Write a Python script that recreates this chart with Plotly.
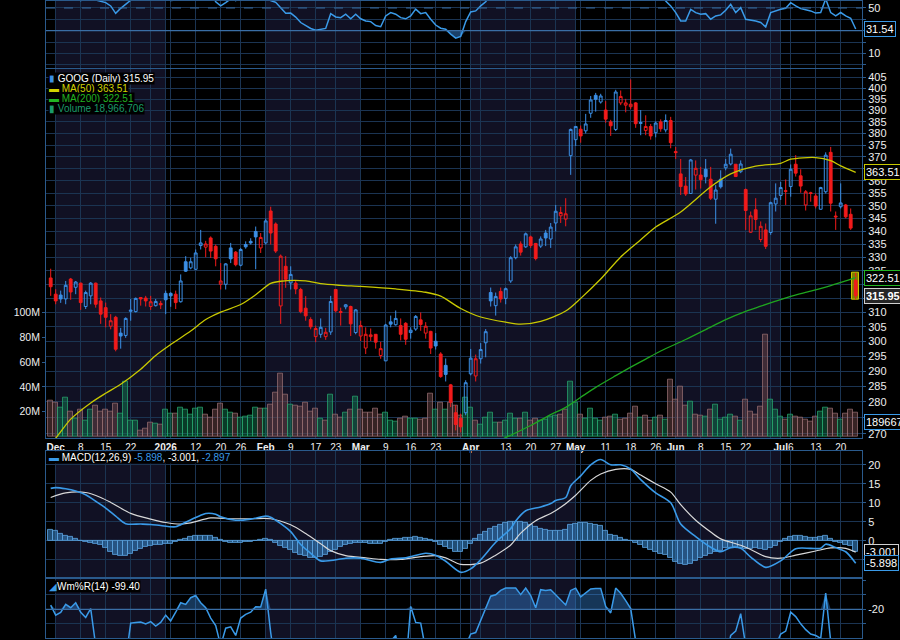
import math
import pandas as pd
import plotly.graph_objects as go

# ---------------- data ----------------
HOLIDAYS = ["2025-12-25", "2026-01-01", "2026-01-19", "2026-02-16",
            "2026-04-03", "2026-05-25", "2026-06-19", "2026-07-03"]
dates = pd.bdate_range("2025-11-28", "2026-07-23", freq="C",
                       holidays=HOLIDAYS).strftime("%Y-%m-%d").tolist()

opens = [322.4, 316.5, 316.2, 314.8, 322.0, 319.0, 320.5, 312.1, 315.9, 320.5,
         314.1, 311.7, 305.2, 308.3, 302.8, 302.0, 310.4, 310.3, 315.3, 315.1,
         312.1, 312.4, 313.2, 316.8, 316.8, 316.5, 313.8, 328.4, 326.1, 325.6,
         334.5, 333.9, 337.4, 334.2, 320.1, 320.1, 333.6, 332.0, 327.1, 334.9,
         336.1, 339.9, 333.6, 335.5, 347.9, 342.8, 312.3, 326.7, 320.6, 320.5,
         318.2, 311.5, 307.5, 301.6, 302.4, 301.6, 303.2, 318.2, 310.3, 312.0,
         312.1, 303.0, 301.8, 297.7, 301.6, 302.4, 295.2, 293.4, 306.7, 305.7,
         305.4, 306.2, 303.0, 304.2, 307.4, 302.8, 303.4, 300.0, 295.7, 291.9,
         285.5, 276.6, 274.9, 276.6, 289.1, 288.4, 294.1, 299.5, 317.1, 312.4,
         317.5, 315.0, 321.3, 329.9, 335.1, 334.0, 337.8, 335.3, 334.3, 339.3,
         337.0, 343.2, 346.0, 344.7, 370.5, 377.3, 381.8, 381.1, 388.8, 396.8,
         393.8, 390.2, 385.0, 381.7, 393.4, 392.4, 391.7, 393.4, 384.3, 381.3,
         383.0, 380.3, 385.0, 381.5, 385.6, 372.2, 362.9, 357.9, 354.9, 362.4,
         362.4, 364.8, 360.7, 352.6, 360.7, 365.4, 367.0, 366.9, 363.8, 356.5,
         339.6, 348.4, 336.8, 340.5, 339.5, 350.7, 354.1, 356.0, 357.7, 366.9,
         362.1, 350.3, 355.2, 353.9, 348.6, 355.6, 371.9, 345.9, 349.6, 350.3,
         346.6, 321.5]
highs = [325.8, 318.3, 317.8, 321.3, 322.4, 321.3, 320.7, 317.8, 320.9, 320.7,
         315.3, 313.5, 309.4, 308.8, 304.6, 308.3, 314.8, 315.3, 315.5, 315.9,
         315.9, 314.8, 314.1, 317.8, 317.2, 317.8, 323.7, 330.5, 329.9, 333.0,
         340.5, 336.3, 338.0, 334.9, 327.9, 327.9, 335.5, 332.4, 333.6, 336.1,
         337.3, 341.8, 339.3, 344.9, 349.6, 343.4, 331.1, 330.5, 326.7, 321.5,
         318.8, 315.8, 308.3, 305.4, 307.9, 304.6, 315.9, 318.2, 311.7, 313.0,
         312.4, 311.2, 307.1, 304.8, 304.4, 302.4, 299.8, 306.0, 308.9, 310.7,
         307.9, 306.6, 304.8, 309.1, 310.0, 306.6, 303.6, 302.8, 296.3, 294.2,
         285.8, 279.0, 276.3, 287.0, 297.4, 295.5, 299.4, 304.2, 318.9, 317.1,
         318.9, 318.9, 330.5, 334.9, 336.1, 339.5, 338.3, 335.5, 338.0, 340.5,
         343.2, 350.3, 349.6, 353.0, 382.1, 383.0, 383.4, 388.5, 396.5, 397.9,
         397.5, 394.2, 385.9, 399.3, 399.0, 395.2, 404.0, 393.8, 390.2, 387.9,
         384.1, 385.2, 386.1, 388.3, 387.2, 374.2, 369.1, 361.6, 369.1, 368.5,
         365.8, 369.1, 365.8, 358.3, 364.4, 369.1, 373.5, 367.0, 368.5, 356.9,
         347.7, 353.0, 343.8, 343.0, 351.6, 359.0, 359.6, 360.6, 366.8, 370.7,
         364.8, 356.3, 355.6, 354.9, 357.6, 371.9, 374.2, 347.7, 359.0, 350.7,
         348.9, 324.3]
lows = [315.9, 312.9, 313.4, 312.9, 314.5, 316.5, 310.9, 311.2, 312.9, 311.7,
        306.0, 304.8, 304.1, 296.6, 297.5, 301.2, 307.1, 310.0, 312.4, 312.1,
        310.9, 312.1, 311.2, 309.4, 312.0, 311.2, 313.5, 324.6, 325.6, 325.3,
        333.0, 330.1, 329.8, 326.7, 318.2, 318.2, 327.9, 326.7, 326.7, 333.3,
        334.9, 325.6, 331.7, 334.9, 334.9, 331.7, 306.0, 318.8, 318.2, 316.5,
        309.7, 307.1, 304.1, 299.7, 301.2, 300.5, 302.2, 310.0, 305.4, 311.1,
        301.8, 302.4, 300.1, 295.7, 300.1, 297.5, 294.1, 293.4, 304.8, 305.4,
        300.3, 298.8, 300.9, 303.6, 303.6, 300.9, 295.7, 297.2, 287.8, 286.6,
        278.4, 271.1, 270.5, 275.8, 288.6, 286.6, 292.5, 294.6, 312.1, 308.9,
        313.5, 312.9, 320.6, 329.3, 330.7, 333.6, 333.6, 328.9, 333.6, 334.3,
        333.6, 339.9, 343.2, 341.9, 362.5, 374.6, 376.0, 380.0, 386.8, 389.5,
        393.1, 384.6, 378.9, 381.0, 392.4, 389.2, 390.6, 382.4, 379.2, 379.2,
        377.3, 378.3, 380.7, 380.4, 373.6, 369.1, 354.3, 353.9, 354.7, 356.5,
        356.9, 359.0, 352.3, 342.9, 356.9, 364.4, 366.4, 361.6, 363.2, 340.5,
        339.3, 340.5, 335.8, 333.2, 338.6, 347.7, 352.3, 350.3, 353.6, 361.8,
        355.2, 348.1, 351.6, 348.9, 348.4, 354.9, 347.7, 340.5, 348.9, 345.0,
        340.5, 314.6]
closes = [319.2, 314.1, 314.8, 319.7, 317.3, 320.9, 313.5, 317.1, 320.5, 312.9,
          309.4, 308.3, 307.1, 297.3, 301.8, 307.9, 310.8, 315.0, 314.8, 314.1,
          313.8, 313.9, 312.7, 314.5, 315.9, 313.5, 321.3, 324.9, 328.4, 331.7,
          335.5, 335.1, 332.4, 329.5, 321.3, 327.6, 329.5, 327.3, 333.0, 334.0,
          335.5, 337.8, 337.6, 344.0, 339.3, 332.4, 330.5, 321.9, 323.7, 318.4,
          310.3, 308.8, 305.0, 304.4, 304.8, 303.1, 313.9, 310.6, 310.0, 312.7,
          306.0, 310.9, 305.4, 302.4, 302.2, 299.7, 297.5, 305.6, 305.9, 307.9,
          302.4, 300.7, 303.8, 308.6, 305.8, 305.2, 297.7, 298.4, 288.2, 288.9,
          279.9, 272.9, 272.2, 286.2, 294.3, 294.1, 297.2, 303.3, 314.1, 315.7,
          314.8, 318.5, 329.9, 334.0, 332.0, 339.0, 334.5, 329.6, 337.0, 337.4,
          341.6, 347.8, 347.3, 346.8, 381.7, 383.0, 378.9, 384.1, 394.7, 395.0,
          396.5, 386.2, 383.3, 398.3, 396.3, 393.4, 392.8, 384.2, 384.7, 383.0,
          378.9, 384.5, 382.0, 385.6, 376.0, 371.8, 357.7, 354.7, 368.7, 365.2,
          360.5, 361.7, 353.0, 356.3, 357.6, 366.9, 371.1, 361.8, 367.0, 348.1,
          346.0, 344.6, 341.9, 334.2, 351.2, 353.0, 357.3, 355.8, 364.8, 363.2,
          357.9, 355.6, 354.9, 349.9, 357.3, 370.7, 351.0, 345.6, 351.1, 345.6,
          341.2, 315.95]
volume_millions = [28.9, 27.5, 23.5, 31.5, 20.3, 14.7, 21.4, 12.9, 21.4, 24.9,
                   20.3, 21.4, 20.3, 26.7, 18.7, 44.3, 12.9, 12.9, 4.9, 6.2,
                   11.5, 10.2, 9.7, 21.4, 18.7, 18.2, 23.5, 21.4, 17.7, 22.7,
                   23.5, 17.7, 15.5, 21.4, 26.2, 21.4, 19.0, 18.2, 15.5, 16.1,
                   16.9, 23.5, 22.2, 22.2, 25.4, 35.5, 51.0, 33.4, 25.4, 24.9,
                   24.3, 27.5, 20.1, 22.7, 14.7, 12.9, 33.4, 17.7, 15.5, 19.5,
                   21.7, 32.3, 21.7, 19.5, 19.5, 22.2, 17.4, 19.0, 12.9, 12.1,
                   14.7, 16.3, 14.2, 14.2, 13.7, 14.7, 34.2, 21.7, 27.0, 21.7,
                   27.0, 24.9, 16.9, 31.5, 23.5, 12.9, 9.4, 15.5, 19.5, 11.5,
                   11.5, 12.9, 18.2, 14.2, 14.7, 19.0, 12.9, 14.2, 12.9, 13.4,
                   16.3, 16.9, 17.4, 21.7, 44.1, 27.5, 17.4, 14.7, 22.2, 14.2,
                   12.9, 15.5, 16.3, 17.4, 13.7, 14.7, 18.2, 24.3, 15.5, 16.9,
                   12.9, 15.5, 16.9, 14.0, 46.0, 30.0, 40.0, 25.0, 28.0, 18.0,
                   17.0, 16.0, 22.0, 26.0, 14.0, 15.0, 18.0, 16.0, 13.0, 30.0,
                   20.0, 18.0, 24.0, 82.0, 30.0, 22.0, 16.0, 14.0, 18.0, 16.0,
                   15.0, 14.0, 12.0, 16.0, 20.3, 23.5, 22.2, 18.2, 13.4, 18.2,
                   21.4, 18.966706]

ma50_idx = [0, 1, 4, 8, 11, 14, 18, 21, 24, 28, 31, 34, 38, 41, 44, 46, 51, 54, 58, 62,
            69, 75, 78, 82, 86, 91, 94, 98, 103, 106, 110, 114, 118, 121, 126, 132, 136,
            141, 146, 148, 153, 156, 158, 161]
ma50_val = [267.3, 268.7, 274.6, 279.7, 282.8, 285.7, 290.6, 295.2, 298.9, 303.5,
            307.5, 310.1, 312.8, 316.3, 320.4, 321.2, 321.3, 320.3, 319.7, 319.3,
            318.4, 317.2, 315.8, 311.4, 308.4, 306.6, 305.9, 306.9, 310.5, 315.0,
            322.0, 330.2, 336.7, 341.6, 347.5, 357.6, 362.9, 366.1, 367.3, 369.0,
            369.7, 368.4, 366.2, 363.51]
ma200_idx = [88, 92, 96, 100, 103, 106, 109, 113, 116, 119, 122, 127, 131, 135, 139,
             142, 145, 148, 152, 156, 159, 161]
ma200_val = [266.8, 269.6, 272.6, 276.0, 278.3, 281.5, 284.7, 288.5, 291.3, 294.0,
             296.7, 300.6, 304.0, 307.5, 310.4, 312.2, 314.0, 315.7, 317.6, 319.6,
             321.3, 322.51]

macd_idx = [0, 1, 3, 5, 7, 9, 11, 13, 15, 18, 20, 22, 25, 27, 30, 31, 33, 34, 37, 40,
            43, 44, 46, 48, 50, 52, 54, 56, 59, 62, 66, 68, 71, 75, 77, 79, 82, 84, 86, 89,
            92, 93, 95, 98, 100, 101, 103, 104, 106, 108, 110, 112, 114, 116, 118, 121,
            124, 126, 129, 132, 134, 136, 138, 140, 143, 146, 149, 152, 154, 155, 157,
            159, 161]
macd_val = [13.8, 14.0, 13.7, 13.1, 12.1, 10.4, 8.6, 6.5, 4.5, 4.4,
            4.3, 4.0, 3.7, 4.9, 6.7, 7.2, 7.0, 6.3, 5.4, 5.7,
            6.5, 6.2, 4.5, 2.4, -1.0, -3.3, -5.3, -5.2, -4.6, -4.6,
            -5.7, -4.8, -4.5, -3.3, -3.8, -5.4, -8.3, -7.4, -5.0, -0.4,
            3.2, 5.2, 7.9, 8.9, 9.8, 10.6, 11.4, 14.5, 17.1, 20.0,
            21.4, 20.0, 20.0, 18.9, 16.1, 12.6, 10.0, 4.4, 1.1, -1.7,
            -2.9, -1.8, -2.0, -4.3, -7.0, -5.3, -2.1, -2.0, -2.0, -0.9,
            -1.8, -2.9, -5.898]
signal_idx = [0, 3, 7, 10, 12, 16, 20, 23, 26, 28, 32, 36, 40, 44, 48, 51, 54, 56, 59, 63,
              66, 70, 74, 77, 79, 82, 86, 89, 92, 94, 97, 100, 102, 105, 108, 110, 113,
              116, 118, 121, 124, 126, 129, 132, 134, 138, 140, 143, 146, 149, 153, 156,
              159, 161]
signal_val = [11.4, 12.6, 12.7, 11.4, 10.1, 7.2, 5.7, 4.8, 4.4, 4.7,
              6.0, 5.8, 5.8, 5.8, 4.2, 1.9, -0.8, -2.6, -3.9, -4.5,
              -4.9, -4.9, -4.2, -3.9, -4.5, -6.2, -5.9, -3.8, -1.1, 2.0,
              5.3, 7.2, 8.8, 12.0, 15.9, 17.6, 18.8, 18.8, 17.3, 15.0,
              12.8, 9.5, 5.4, 2.3, 0.5, -1.2, -2.3, -4.2, -4.6, -3.8,
              -2.7, -1.9, -2.0, -3.001]
macd_hist = [2.8, 2.5, 1.9, 1.4, 0.9, 0.4, 0.0, -0.3, -0.6, -0.9,
             -1.2, -2.0, -3.0, -3.8, -4.0, -3.9, -3.4, -2.7, -2.1, -1.7,
             -1.4, -1.2, -1.1, -0.9, -0.7, -0.3, 0.2, 0.6, 0.9, 1.2,
             1.3, 1.3, 1.2, 0.8, 0.2, -0.4, -0.5, -0.5, -0.5, -0.4,
             -0.3, -0.1, 0.3, 0.4, 0.2, -0.6, -1.3, -2.0, -2.5, -3.1,
             -3.6, -4.1, -4.5, -4.5, -4.3, -3.8, -3.0, -2.3, -1.5, -1.0,
             -0.7, -0.6, -0.5, -0.6, -0.7, -0.8, -0.7, -0.3, 0.2, 0.4,
             0.6, 0.7, 0.8, 0.9, 0.8, 0.6, 0.3, -0.3, -1.0, -1.5,
             -2.2, -2.8, -2.9, -2.2, -0.8, 0.5, 1.5, 2.3, 3.1, 3.7,
             4.2, 4.7, 5.0, 5.0, 5.0, 4.8, 4.1, 3.6, 3.2, 2.8,
             2.5, 2.6, 2.5, 2.8, 4.2, 4.5, 4.6, 4.6, 4.5, 4.3,
             3.8, 2.6, 1.6, 1.2, 0.8, 0.3, -0.1, -0.6, -1.2, -1.8,
             -2.4, -3.0, -3.5, -3.8, -4.6, -5.6, -6.2, -6.4, -6.0, -5.2,
             -4.6, -4.0, -3.5, -2.9, -2.6, -2.0, -1.8, -1.6, -1.8, -2.2,
             -2.2, -2.0, -2.2, -2.4, -2.0, -1.4, -0.3, 0.5, 0.9, 1.2,
             1.2, 1.0, 0.8, 0.7, 0.9, 1.3, 0.6, -0.3, -0.6, -1.0,
             -1.4, -2.897]

rsi_vals = [58, 57, 58, 60, 57.5, 59, 56.5, 58, 59.5, 57,
            56.1, 54.7, 51.8, 45.3, 49.7, 53.2, 56.8, 59, 58.5, 58,
            57.5, 57.8, 57, 58.5, 56.5, 57, 61, 62, 64, 66,
            68, 67, 64, 55.5, 51.8, 54.7, 58, 56.5, 59, 60,
            61, 62, 61, 65, 56.5, 55, 50.3, 45.3, 45.5, 42,
            37.2, 34.5, 32.0, 30.5, 31.3, 32.0, 45, 42.1, 41.5, 44.5,
            40.5, 44.5, 40.5, 38.5, 38, 34.5, 33.5, 43, 45.9, 44.5,
            41.5, 40.5, 43, 49, 45, 45.9, 40.1, 35, 32.2, 31.3,
            27.0, 23.5, 25, 38, 46.5, 47.4, 51.8, 55.5, 62, 63,
            61, 64, 69, 72, 68, 72, 68, 63, 66, 67,
            70, 74, 73, 72, 82, 83, 79, 81, 84, 84,
            85, 76, 73, 80, 78, 76, 75, 66, 67, 65,
            62, 66, 62, 56.1, 51.8, 45.9, 38.6, 38.6, 48.8, 45.9,
            44.5, 45.0, 40.1, 43.0, 43.9, 48, 53.2, 45.9, 50.3, 40.1,
            39.5, 38.6, 37.2, 33.4, 45.9, 47.4, 48.8, 49.7, 54.7, 51.8,
            49.4, 48.5, 47.4, 45.5, 46, 58, 46, 43, 46, 43,
            41, 31.54]
wr_vals = [-17.1, -24.0, -22.2, -16.6, -18.9, -15.5, -22.0, -25.6, -19.5, -45.0,
           -80.0, -85.0, -75.0, -95.0, -85.0, -55.0, -29.5, -29.0, -28.8, -30.0,
           -28.5, -31.5, -29.0, -24.0, -28.0, -22.0, -15.5, -16.6, -12.0, -10.5,
           -15.5, -18.9, -26.0, -31.2, -45.0, -33.0, -32.0, -38.0, -26.0, -23.5,
           -22.0, -18.2, -18.4, -6.1, -36.0, -60.0, -70.0, -80.0, -75.0, -85.0,
           -95.0, -95.0, -97.0, -92.0, -90.0, -93.0, -65.0, -88.0, -88.0, -82.0,
           -92.0, -75.0, -85.0, -85.0, -85.0, -92.0, -90.0, -60.0, -42.0, -38.0,
           -55.0, -60.0, -18.0, -29.0, -29.5, -48.0, -70.0, -65.0, -95.0, -85.0,
           -98.0, -99.0, -97.0, -45.0, -37.0, -36.0, -28.0, -19.0, -11.0, -10.0,
           -7.0, -5.4, -5.4, -5.4, -9.9, -5.4, -10.5, -18.9, -6.5, -7.0,
           -6.5, -9.9, -13.5, -17.0, -7.0, -5.4, -11.4, -9.0, -6.0, -5.6,
           -5.6, -18.0, -22.5, -5.4, -9.0, -14.0, -19.5, -42.0, -50.0, -60.0,
           -72.0, -60.0, -62.0, -65.0, -85.0, -90.0, -97.0, -95.0, -70.0, -75.0,
           -82.0, -78.0, -93.0, -80.0, -72.0, -55.0, -38.0, -35.0, -23.0, -45.0,
           -60.0, -65.0, -80.0, -95.0, -60.0, -45.0, -37.0, -35.0, -22.0, -25.0,
           -30.0, -34.0, -37.0, -38.0, -40.0, -8.8, -42.0, -75.0, -70.0, -85.0,
           -95.0, -99.4]

tick_dates = ["2025-12-01", "2025-12-08", "2025-12-15", "2025-12-22", "2025-12-29",
              "2026-01-02", "2026-01-05", "2026-01-12", "2026-01-20", "2026-01-26",
              "2026-02-02", "2026-02-09", "2026-02-17", "2026-02-23", "2026-03-02",
              "2026-03-09", "2026-03-16", "2026-03-23", "2026-03-30", "2026-04-01",
              "2026-04-06", "2026-04-13", "2026-04-20", "2026-04-27", "2026-05-01",
              "2026-05-04", "2026-05-11", "2026-05-18", "2026-05-26", "2026-06-01",
              "2026-06-08", "2026-06-15", "2026-06-22", "2026-06-29", "2026-07-01",
              "2026-07-06", "2026-07-13", "2026-07-20"]
tick_text = ["Dec", "8", "15", "22", "", "2026", "", "12", "20", "26",
             "Feb", "9", "17", "23", "Mar", "9", "16", "23", "", "Apr",
             "", "13", "20", "27", "May", "", "11", "18", "26", "Jun",
             "8", "15", "22", "", "Jul", "6", "13", "20"]
major_labels = {"Dec", "2026", "Feb", "Mar", "Apr", "May", "Jun", "Jul"}
price_ticks = list(range(270, 406, 5))
price_hidden = {275, 315, 320, 365}          # labels covered by value tags
volume_ticks = [20, 40, 60, 80, 100]
shaded_months = [("2025-12", "2026-01"), ("2026-02", "2026-03"),
                 ("2026-04", "2026-05"), ("2026-06", "2026-07")]

n = len(dates)
for name, arr in [("opens", opens), ("highs", highs), ("lows", lows), ("closes", closes),
                  ("vol", volume_millions), ("hist", macd_hist), ("rsi", rsi_vals), ("wr", wr_vals)]:
    assert len(arr) == n, (name, len(arr), n)
assert len(ma50_idx) == len(ma50_val) and len(ma200_idx) == len(ma200_val)
assert len(macd_idx) == len(macd_val) and len(signal_idx) == len(signal_val)

# ---------------- style ----------------
FONT = "Liberation Sans, Arial, sans-serif"
GRID = "#1b3452"
AXLINE = "#2a5a8c"
BLUE = "#3b8fe6"
RED = "#f21b1b"
LBLUE = "#3a9ae8"
NAVY = "rgb(17,17,36)"
W, H = 900, 640
L_M, R_M = 46, 38

def dom(top_px, bot_px):
    return [1 - bot_px / H, 1 - top_px / H]

panels = {"rsi": (0, 67), "main": (68, 439), "macd": (452, 579), "wr": (581, 640)}

up = [closes[i] >= (closes[i - 1] if i else opens[i]) for i in range(n)]
bi = [i for i in range(n) if up[i]]
ri = [i for i in range(n) if not up[i]]
sub = lambda arr, ids: [arr[i] for i in ids]
last = n - 1

fig = go.Figure()

# volume (base axis of main panel)
fig.add_trace(go.Bar(
    x=dates, y=volume_millions, xaxis="x", yaxis="y",
    marker=dict(color=["rgba(18,120,80,0.5)" if u else "rgba(110,70,72,0.5)" for u in up],
                line=dict(color=["rgba(40,165,110,0.75)" if u else "rgba(150,110,112,0.75)" for u in up],
                          width=1)),
    hoverinfo="skip"))

# highlight box behind the last candle
hl_base = lows[last]
fig.add_trace(go.Bar(
    x=[dates[last]], y=[highs[last] - hl_base], base=[hl_base], width=[1.45],
    xaxis="x", yaxis="y5",
    marker=dict(color="rgba(150,150,0,0.85)", line=dict(color="#c8c800", width=1)),
    hoverinfo="skip"))

# candles
fig.add_trace(go.Candlestick(
    x=sub(dates, bi), open=sub(opens, bi), high=sub(highs, bi), low=sub(lows, bi),
    close=sub(closes, bi), xaxis="x", yaxis="y5", whiskerwidth=0,
    increasing=dict(line=dict(color=BLUE, width=1), fillcolor="rgba(0,0,0,0)"),
    decreasing=dict(line=dict(color=BLUE, width=1), fillcolor=BLUE), hoverinfo="skip"))
fig.add_trace(go.Candlestick(
    x=sub(dates, ri), open=sub(opens, ri), high=sub(highs, ri), low=sub(lows, ri),
    close=sub(closes, ri), xaxis="x", yaxis="y5", whiskerwidth=0,
    increasing=dict(line=dict(color=RED, width=1), fillcolor="rgba(0,0,0,0)"),
    decreasing=dict(line=dict(color=RED, width=1), fillcolor=RED), hoverinfo="skip"))

# moving averages
fig.add_trace(go.Scatter(x=[dates[k] for k in ma50_idx], y=ma50_val, xaxis="x", yaxis="y5",
                         mode="lines", line=dict(color="#c9c900", width=1.3, shape="spline", smoothing=0.8),
                         hoverinfo="skip"))
fig.add_trace(go.Scatter(x=[dates[k] for k in ma200_idx], y=ma200_val, xaxis="x", yaxis="y5",
                         mode="lines", line=dict(color="#1fa51f", width=1.3, shape="spline", smoothing=0.8),
                         hoverinfo="skip"))

# RSI (top)
fig.add_trace(go.Scatter(x=dates, y=[30] * n, xaxis="x2", yaxis="y2", mode="lines",
                         line=dict(width=0), hoverinfo="skip"))
fig.add_trace(go.Scatter(x=dates, y=[min(v, 30) for v in rsi_vals], xaxis="x2", yaxis="y2",
                         mode="lines", line=dict(width=0), fill="tonexty",
                         fillcolor="rgba(58,142,232,0.45)", hoverinfo="skip"))
fig.add_trace(go.Scatter(x=dates, y=rsi_vals, xaxis="x2", yaxis="y2", mode="lines",
                         line=dict(color=LBLUE, width=1.5), hoverinfo="skip"))

# MACD
fig.add_trace(go.Bar(x=dates, y=macd_hist, xaxis="x3", yaxis="y3",
                     marker=dict(color="rgba(55,130,195,0.6)",
                                 line=dict(color="rgba(90,160,220,0.85)", width=1)),
                     hoverinfo="skip"))
fig.add_trace(go.Scatter(x=[dates[k] for k in signal_idx], y=signal_val, xaxis="x3", yaxis="y3",
                         mode="lines", line=dict(color="#d8d8d8", width=1.2, shape="spline", smoothing=0.8),
                         hoverinfo="skip"))
fig.add_trace(go.Scatter(x=[dates[k] for k in macd_idx], y=macd_val, xaxis="x3", yaxis="y3",
                         mode="lines", line=dict(color=LBLUE, width=1.6, shape="spline", smoothing=0.8),
                         hoverinfo="skip"))

# Williams %R
fig.add_trace(go.Scatter(x=dates, y=[-20] * n, xaxis="x4", yaxis="y4", mode="lines",
                         line=dict(width=0), hoverinfo="skip"))
fig.add_trace(go.Scatter(x=dates, y=[max(v, -20) for v in wr_vals], xaxis="x4", yaxis="y4",
                         mode="lines", line=dict(width=0), fill="tonexty",
                         fillcolor="rgba(58,142,232,0.38)", hoverinfo="skip"))
fig.add_trace(go.Scatter(x=dates, y=wr_vals, xaxis="x4", yaxis="y4", mode="lines",
                         line=dict(color=LBLUE, width=1.5), hoverinfo="skip"))

# ---------------- axes ----------------
xr = [-0.94, 162.26]
ticktext = [f"<b>{t}</b>" if t in major_labels else t for t in tick_text]
xcommon = dict(type="category", categoryorder="array", categoryarray=dates, range=xr,
               tickvals=tick_dates, showgrid=True, gridcolor=GRID, gridwidth=1,
               zeroline=False, showline=True, linecolor=AXLINE, mirror=True, ticks="",
               fixedrange=True, tickangle=0)
ycommon = dict(showgrid=True, gridcolor=GRID, gridwidth=1, zeroline=False, showline=True,
               linecolor=AXLINE, mirror=True, ticks="outside", ticklen=3, tickcolor=AXLINE,
               tickfont=dict(size=11, color="#eeeeee", family=FONT), side="right")

pmin = 270 * math.exp(-(439 - 435.0) / 883.7)
pmax = 405 * math.exp((76.7 - 68) / 883.7)

fig.update_layout(
    width=W, height=H, margin=dict(l=L_M, r=R_M, t=0, b=0, pad=0),
    paper_bgcolor="black", plot_bgcolor="black", showlegend=False,
    bargap=0, boxgap=0.2, barmode="overlay",
    font=dict(family=FONT, color="#eeeeee", size=10),
    xaxis=dict(**xcommon, anchor="y", ticktext=ticktext, showticklabels=True,
               tickfont=dict(size=10, color="#f0f0f0", family=FONT), rangeslider=dict(visible=False)),
    xaxis2=dict(**xcommon, anchor="y2", showticklabels=False),
    xaxis3=dict(**xcommon, anchor="y3", showticklabels=False),
    xaxis4=dict(**xcommon, anchor="y4", showticklabels=False),
    yaxis=dict(domain=dom(*panels["main"]), anchor="x", side="left", range=[-1.04, 295.8],
               tickvals=volume_ticks, ticktext=[f"{v}M" for v in volume_ticks], showgrid=False,
               zeroline=False, showline=True, linecolor=AXLINE, ticks="outside", ticklen=3,
               tickcolor=AXLINE, tickfont=dict(size=10.5, color="#eeeeee", family=FONT),
               fixedrange=True),
    yaxis5=dict(**ycommon, overlaying="y", anchor="x", type="log",
                range=[math.log10(pmin), math.log10(pmax)], tickvals=price_ticks,
                ticktext=["" if v in price_hidden else str(v) for v in price_ticks]),
    yaxis2=dict(**ycommon, domain=dom(*panels["rsi"]), anchor="x2", range=[-2.5, 56.13],
                tickvals=[0, 10, 20, 30, 40, 50], ticktext=["", "10", "", "", "", "50"]),
    yaxis3=dict(**ycommon, domain=dom(*panels["macd"]), anchor="x3", range=[-9.62, 23.67],
                tickvals=[-5, 0, 5, 10, 15, 20], ticktext=["", "0", "5", "10", "15", "20"]),
    yaxis4=dict(**ycommon, domain=dom(*panels["wr"]), anchor="x4", range=[-39.73, 0.67],
                tickvals=[-30, -20, -10, 0], ticktext=["", "-20", "", ""]),
)

# ---------------- shapes ----------------
shapes = []
for m0, m1 in shaded_months:
    s = next(i for i, d in enumerate(dates) if d.startswith(m0))
    e = next(i for i, d in enumerate(dates) if d.startswith(m1))
    for key in panels:
        y0, y1 = dom(*panels[key])
        shapes.append(dict(type="rect", xref="x", yref="paper", x0=s, x1=e, y0=y0, y1=y1,
                           fillcolor=NAVY, line=dict(width=0), layer="below"))
# RSI reference lines
shapes.append(dict(type="line", xref="x2 domain", yref="y2", x0=0, x1=1, y0=50, y1=50,
                   line=dict(color="#3a6ea5", width=1, dash="dash")))
shapes.append(dict(type="line", xref="x2 domain", yref="y2", x0=0, x1=1, y0=30, y1=30,
                   line=dict(color="#3a6ea5", width=1.2)))
# Williams %R -20 line
shapes.append(dict(type="line", xref="x4 domain", yref="y4", x0=0, x1=1, y0=-20, y1=-20,
                   line=dict(color="#3a6ea5", width=1.2)))
fig.update_layout(shapes=shapes)

# ---------------- annotations ----------------
ann = []
def legend_line(ypx, text):
    ann.append(dict(xref="paper", yref="paper", x=0, xshift=2, y=1 - ypx / H, xanchor="left",
                    yanchor="middle", text=text, showarrow=False, bgcolor="black",
                    font=dict(family=FONT, size=10, color="#ffffff"), borderpad=0))

legend_line(77.5, f"<span style='color:{BLUE}'>▮</span> GOOG (Daily) {closes[-1]:.2f}")
legend_line(88, f"<span style='color:#d2d200'>▬ MA(50) {ma50_val[-1]:.2f}</span>")
legend_line(98.3, f"<span style='color:#22b522'>▬ MA(200) {ma200_val[-1]:.2f}</span>")
legend_line(108, f"<span style='color:#1b9a6a'>▮ Volume {round(volume_millions[-1] * 1e6):,}</span>")
legend_line(459, f"<span style='color:{LBLUE}'>▬</span> MACD(12,26,9) "
                 f"<span style='color:{LBLUE}'>{macd_val[-1]:.3f}</span>, {signal_val[-1]:.3f}, "
                 f"<span style='color:{LBLUE}'>{macd_hist[-1]:.3f}</span>")
legend_line(588, f"<span style='color:{LBLUE}'>◢</span>Wm%R(14) {wr_vals[-1]:.2f}")

def tag(yref, yval, text, border, bg="black", yshift=0):
    ann.append(dict(xref="paper", yref=yref, x=1, xshift=2, y=yval, yshift=yshift,
                    xanchor="left", yanchor="middle", text=text, showarrow=False,
                    bgcolor=bg, bordercolor=border, borderwidth=1, borderpad=1,
                    font=dict(family=FONT, size=11, color="#ffffff")))

tag("y2", rsi_vals[-1], f"{rsi_vals[-1]:.2f}", LBLUE)
tag("y5", math.log10(ma50_val[-1]), f"{ma50_val[-1]:.2f}", "#c8c800")
tag("y5", math.log10(ma200_val[-1]), f"{ma200_val[-1]:.2f}", "#22b522")
tag("y5", math.log10(closes[-1]), f"<b>{closes[-1]:.2f}</b>", "#d0d0d0", bg="#262626")
tag("y", volume_millions[-1], f"{round(volume_millions[-1] * 1e6)}", LBLUE, yshift=-9)
tag("y3", signal_val[-1], f"{signal_val[-1]:.3f}", "#d0d0d0")
tag("y3", macd_val[-1], f"{macd_val[-1]:.3f}", LBLUE)
fig.update_layout(annotations=ann)

fig.write_html("out.html")
